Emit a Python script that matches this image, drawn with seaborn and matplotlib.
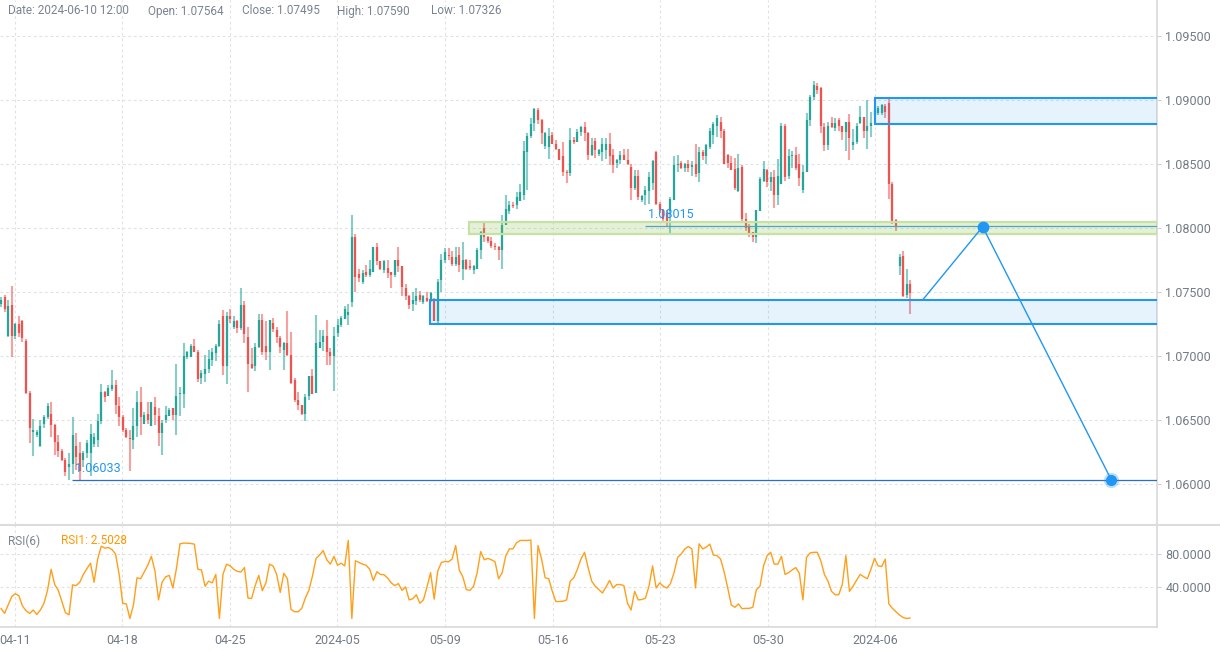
import matplotlib
matplotlib.use("Agg")
import matplotlib.pyplot as plt
import numpy as np
import pandas as pd
import seaborn as sns
from matplotlib.patches import Rectangle
from matplotlib.lines import Line2D

# ---------------- data (prices in pips above BASE) ----------------
BASE = 1.06
PIP = 0.0001

opens = [141,146,116,140,116,125,127,112,71,41,
         38,30,47,52,55,46,33,26,19,13,
         16,30,24,19,24,24,31,34,49,72,
         69,74,77,61,52,42,36,34,45,64,
         47,55,45,60,53,40,50,53,59,54,
         70,70,99,99,108,103,83,86,90,97,
         102,108,131,92,131,123,127,122,140,115,
         94,92,107,128,108,103,126,120,114,105,
         110,101,81,66,62,55,69,84,71,106,
         111,116,103,100,118,124,129,132,142,193,
         164,158,166,163,166,185,174,167,169,166,
         163,175,170,153,147,141,143,148,142,145,
         143,144,127,159,175,179,177,172,179,168,
         175,170,167,168,183,200,193,190,186,185,
         183,202,213,218,218,221,226,259,272,282,
         292,284,264,263,273,266,262,256,244,243,
         269,267,275,279,274,257,268,258,259,261,
         266,257,251,253,257,253,248,231,241,222,
         226,229,235,259,219,214,212,213,222,249,
         251,247,250,248,250,243,259,256,263,273,
         280,283,276,257,251,246,229,248,207,201,
         197,193,213,237,245,236,240,226,234,280,
         241,256,257,250,230,244,284,302,311,309,
         279,265,282,278,284,280,275,283,265,267,
         282,287,276,280,288,290,290,295,298,234,
         206,170,178,148,156.4]

highs = [146,148,144,155,126,131,128,113,73,51,
         42,50,54,63,64,47,38,27,20,24,
         52,40,33,26,34,47,40,55,78,73,
         77,89,81,68,54,44,42,59,73,76,
         56,64,64,68,59,50,61,59,59,94,
         76,110,104,109,113,105,89,101,105,106,
         109,128,136,134,137,131,128,153,143,123,
         106,110,133,133,127,128,130,123,116,111,
         135,119,83,72,62,70,84,90,132,120,
         120,128,106,123,129,131,139,141,210,195,
         168,167,171,175,185,188,174,175,175,166,
         175,185,170,156,148,150,153,151,148,150,
         150,145,160,180,184,184,182,185,185,189,
         176,175,171,184,198,205,194,193,188,186,
         210,226,221,220,228,234,268,274,286,294,
         294,285,275,278,275,269,262,267,245,278,
         271,277,280,283,275,270,270,262,270,270,
         274,262,254,260,262,262,250,245,245,226,
         233,244,253,260,220,215,214,224,256,257,
         252,251,253,252,266,263,261,266,278,283,
         288,287,277,258,256,255,258,249,212,203,
         197,214,240,252,246,244,245,254,282,281,
         262,260,263,258,249,290,304,315,313,310,
         282,283,287,286,286,280,283,289,277,282,
         295,287,300,291,295,295,297,297,301,236,
         207,180,182,168,159.0]

lows = [138,134,115,99,113,115,111,70,32,22,
        37,29,44,51,37,23,21,18,6,3.5,
        8,11,3.3,13,20,6,29,29,47,64,
        69,73,55,45,41,36,10,27,37,38,
        47,47,45,46,30,23,48,53,50,38,
        53,59,98,99,103,80,78,80,87,92,
        96,107,85,78,126,121,118,120,110,72,
        90,88,106,101,97,89,119,110,102,89,
        100,78,64,58,54,49,66,70,71,106,
        104,93,93,73,115,123,129,124,138,150,
        158,156,162,162,166,171,167,165,161,153,
        162,166,147,144,137,135,140,142,141,142,
        142,127,124,150,173,175,170,170,166,159,
        167,167,164,168,176,189,188,184,183,175,
        168,202,211,216,215,221,222,230,270,276,
        281,266,262,254,266,261,253,241,235,241,
        266,267,272,268,253,256,255,256,252,254,
        249,243,247,250,253,249,222,230,222,220,
        218,219,230,218,212,205,201.5,196,222,244,
        246,244,244,241,240,236,253,250,262,266,
        271,270,250,247,245,230,228,205,198,193,
        189,188,213,236,232,229,216,218,234,237,
        238,247,245,233,227,244,280,300,305,274,
        260,261,278,276,276,269,260,253,261,266,
        281,270,262,271,282,288,288,286,223,203,
        198,163,146,145,132.6]

closes = [144,137,139,116,125,118,114,71,44,42,
          41,45,52,61,46,33,26,19,9,16,
          38,21,10,24,32,39,37,49,72,68,
          75,77,62,52,42,37,35,45,64,52,
          54,50,64,54,40,48,54,58,54,69,
          71,100,103,108,103,82,87,90,98,103,
          108,125,92,131,129,127,122,140,117,94,
          91,107,128,103,103,128,121,115,107,110,
          101,79,66,62,55,68,84,70,110,111,
          116,103,100,116,124,130,137,134,193,162,
          161,165,163,168,185,174,168,174,165,163,
          175,170,154,147,140,144,147,144,147,143,
          149,127,158,175,181,178,172,177,171,175,
          168,169,170,183,197,193,190,186,185,183,
          202,215,218,217,224,228,260,272,281,293,
          284,274,274,272,266,262,253,244,243,269,
          267,275,279,274,257,265,261,261,266,266,
          256,249,253,257,253,250,231,241,224,225,
          230,240,252,219,214,207,205,223,249,250,
          247,250,247,249,242,259,256,265,276,281,
          286,276,250,251,245,231,247,207,200,195,
          193,214,238,246,236,240,226,241,280,240,
          256,257,247,239,244,284,302,312,308,280,
          265,280,279,282,280,275,283,270,267,280,
          287,276,280,282,292,294,296,291,234,205,
          201,177,147,156.4,149.5]

rsi6 = [14.1,8.0,18.2,28.5,31.8,29.4,17.0,11.2,8.0,12.1,
        6.7,12.1,20.3,36.0,61.5,43.0,36.0,22.4,8.8,6.3,
        42.6,41.7,45.8,55.3,62.3,68.9,45.8,73.9,89.5,87.1,
        87.9,85.4,80.0,55.3,20.3,19.5,1.8,18.2,51.2,50.0,
        58.2,66.4,77.2,59.4,24.4,45.8,52.4,54.1,38.8,62.3,
        92.4,93.2,93.2,92.8,92.0,61.5,60.7,40.9,47.1,45.0,
        55.3,1.8,55.3,67.7,65.6,61.5,59.0,58.2,63.6,26.5,
        26.1,41.7,54.1,35.5,45.0,67.7,65.6,55.3,33.5,56.6,
        50.0,12.9,10.0,10.0,14.1,26.5,36.0,53.3,74.7,78.8,
        84.2,73.0,67.7,77.2,66.4,68.9,65.6,96.5,1.8,71.8,
        69.7,67.7,66.4,61.5,47.9,58.6,55.3,54.9,50.8,45.0,
        41.7,44.2,36.0,40.1,24.4,25.7,30.6,20.3,24.4,40.1,
        57.4,25.3,59.4,69.7,71.0,70.6,73.9,90.3,60.7,52.4,
        36.8,36.0,40.9,57.4,82.9,73.0,74.7,73.0,70.6,50.0,
        57.4,78.0,86.2,86.2,93.6,96.5,96.5,96.5,97.0,1.8,
        90.3,73.9,51.2,50.0,34.7,22.4,22.4,22.8,24.4,47.1,
        51.2,61.5,73.9,82.1,63.6,47.1,40.9,36.8,32.7,40.1,
        47.9,38.8,43.0,43.0,41.7,20.3,12.1,34.7,24.4,24.8,
        26.5,40.9,65.6,38.8,45.0,40.9,38.8,44.2,57.4,75.9,
        80.0,86.2,89.1,86.2,38.8,92.4,86.2,88.3,92.0,78.8,
        78.0,73.9,58.2,38.8,18.2,15.4,19.5,13.7,14.1,14.1,
        15.4,36.8,40.9,65.6,78.0,82.1,67.7,67.7,77.2,55.3,
        57.4,60.7,63.6,56.6,24.4,75.9,81.3,82.1,82.1,71.8,
        55.3,47.1,34.7,30.6,30.6,43.0,78.0,34.7,40.9,48.3,
        55.3,52.4,50.0,61.5,74.7,65.6,64.8,73.9,19.5,14.1,
        10.0,5.9,3.0,1.8,2.5028]

x_tick_labels = ["04-11", "04-18", "04-25", "2024-05", "05-09",
                 "05-16", "05-23", "05-30", "2024-06"]
price_ticks = [1.060, 1.065, 1.070, 1.075, 1.080, 1.085, 1.090, 1.095]
rsi_ticks = [40, 80]

info_items = ["Date: 2024-06-10 12:00", "Open: 1.07564", "Close: 1.07495",
              "High: 1.07590", "Low: 1.07326"]
rsi_title = "RSI(6)"
rsi_value_label = "RSI1: 2.5028"

# drawn zones: (start candle, low, high)
zone_blue_top = (244.1, 1.08816, 1.09016)
zone_green = (130.7, 1.0795, 1.0805)
zone_blue_low = (119.9, 1.07252, 1.07435)
# horizontal level rays: (start candle, price, label)
level_rays = [(179.9, 1.08015, "1.08015"), (19.8, 1.06033, "1.06033")]
# projected path
path_idx = [257.5, 274.2, 310.1]
path_price = [1.07440, 1.08010, 1.06035]

# ---------------- figure ----------------
sns.set_theme(style="white")
plt.rcParams['font.family'] = ['Roboto', 'DejaVu Sans']

W, H = 1220, 652
PX = 3.58  # px per candle
fig = plt.figure(figsize=(W / 100, H / 100), dpi=100)
ax = fig.add_axes([0, 1 - 524 / H, 1157 / W, 524 / H])
ax2 = fig.add_axes([0, 1 - 627 / H, 1157 / W, 102 / H])

n = len(closes)
df = pd.DataFrame({
    "i": np.arange(n),
    "open": BASE + np.array(opens) * PIP,
    "high": BASE + np.array(highs) * PIP,
    "low": BASE + np.array(lows) * PIP,
    "close": BASE + np.array(closes) * PIP,
    "rsi": rsi6,
})
up_col, dn_col = "#26a69a", "#ef5350"
df["color"] = np.where(df["close"] >= df["open"], up_col, dn_col)
body_lo = np.minimum(df["open"], df["close"])
body_hi = np.maximum(df["open"], df["close"])
tiny = (body_hi - body_lo) < 0.00008
body_lo = np.where(tiny, body_lo - 0.00004, body_lo)
body_hi = np.where(tiny, body_hi + 0.00004, body_hi)

ax.vlines(df["i"], df["low"], df["high"], colors=df["color"], linewidth=1.5,
          alpha=0.55, zorder=2)
ax.vlines(df["i"], body_lo, body_hi, colors=df["color"], linewidth=1.6, zorder=3)

xmin, xmax = -1 / PX, 1156 / PX
ymin = 1.095 - 488 / 12800
ymax = 1.095 + 36 / 12800
ax.set_xlim(xmin, xmax)
ax.set_ylim(ymin, ymax)

tick_pos = [(13.6 + 107.6 * k) / PX for k in range(len(x_tick_labels))]

grid_kw = dict(color="#e2e2e2", linewidth=0.8, linestyle=(0, (2.5, 2.5)), zorder=0)
for p in price_ticks:
    ax.axhline(p, **grid_kw)
for t in tick_pos:
    ax.axvline(t, **grid_kw)
    ax2.axvline(t, **grid_kw)
for r in rsi_ticks:
    ax2.axhline(r, **grid_kw)

# zones
def zone(a, start, lo, hi, face, edge, lw):
    a.add_patch(Rectangle((start, lo), 1000, hi - lo, facecolor=face,
                          edgecolor=edge, linewidth=lw, zorder=4))

zone(ax, zone_blue_top[0], zone_blue_top[1], zone_blue_top[2],
     (0.13, 0.59, 0.95, 0.11), "#2196f3", 1.5)
zone(ax, zone_green[0], zone_green[1], zone_green[2],
     (0.55, 0.76, 0.29, 0.22), "#c5e1a5", 1.6)
zone(ax, zone_blue_low[0], zone_blue_low[1], zone_blue_low[2],
     (0.13, 0.59, 0.95, 0.11), "#2196f3", 1.5)

ray_colors = ["#4aa6c2", "#2a6fc9"]
for (start, price, lab), c in zip(level_rays, ray_colors):
    ax.hlines(price, start, 1000, color=c, linewidth=0.9, zorder=5)
    ax.annotate(lab, xy=(start, price), xytext=(2, 3.5), textcoords="offset points",
                color="#2196f3", fontsize=9, va="bottom", ha="left", zorder=6)

ax.plot(path_idx, path_price, color="#2196f3", linewidth=1.0, zorder=6)
ax.plot(path_idx[1], path_price[1], "o", color="#2196f3", markersize=7.5, zorder=7)
ax.plot(path_idx[2], path_price[2], "o", color="#2196f3", markersize=11, alpha=0.3,
        markeredgewidth=0, zorder=7)
ax.plot(path_idx[2], path_price[2], "o", color="#2196f3", markersize=7, zorder=8)

# RSI
sns.lineplot(data=df, x="i", y="rsi", ax=ax2, color="#ff9f1a", linewidth=1.0,
             zorder=3)
ax2.set_xlim(xmin, xmax)
ax2.set_ylim(-8.5, 115.2)

lab_col = "#737b87"
for a in (ax, ax2):
    a.set_xlabel("")
    a.set_ylabel("")
    a.yaxis.tick_right()
    a.tick_params(axis="y", right=True, left=False, length=3, width=0.8,
                  color="#cfd3d8", pad=3, labelsize=9, labelcolor=lab_col)
    for s in ("top", "left", "bottom"):
        a.spines[s].set_visible(False)
    a.spines["right"].set_color("#d9d9d9")
    a.spines["right"].set_linewidth(1.2)
    a.grid(False)
    a.set_facecolor("none")

ax.set_yticks(price_ticks)
ax.set_yticklabels([f"{p:.5f}" for p in price_ticks])
ax.set_xticks([])
ax2.set_yticks(rsi_ticks)
ax2.set_yticklabels([f"{r:.4f}" for r in rsi_ticks])
ax2.set_xticks(tick_pos)
ax2.set_xticklabels(x_tick_labels)
ax2.tick_params(axis="x", length=0, pad=5, labelsize=9, labelcolor=lab_col)
ax2.spines["bottom"].set_visible(True)
ax2.spines["bottom"].set_color("#d9d9d9")
ax2.spines["bottom"].set_linewidth(1.2)

# panel separator
fig.add_artist(Line2D([0, 1], [1 - 524.5 / H] * 2, transform=fig.transFigure,
                      color="#dcdcdc", linewidth=1.5))

# header texts
info_x = [8, 148, 242, 337, 431]
for xx, t in zip(info_x, info_items):
    fig.text(xx / W, 1 - 11 / H, t, fontsize=8.5, color="#7b8391", va="center")
fig.text(8 / W, 1 - 541 / H, rsi_title, fontsize=8.5, color="#7b8391", va="center")
fig.text(61 / W, 1 - 541 / H, rsi_value_label, fontsize=8.5, color="#ff9800", va="center")

fig.savefig("out.png", dpi=100)
